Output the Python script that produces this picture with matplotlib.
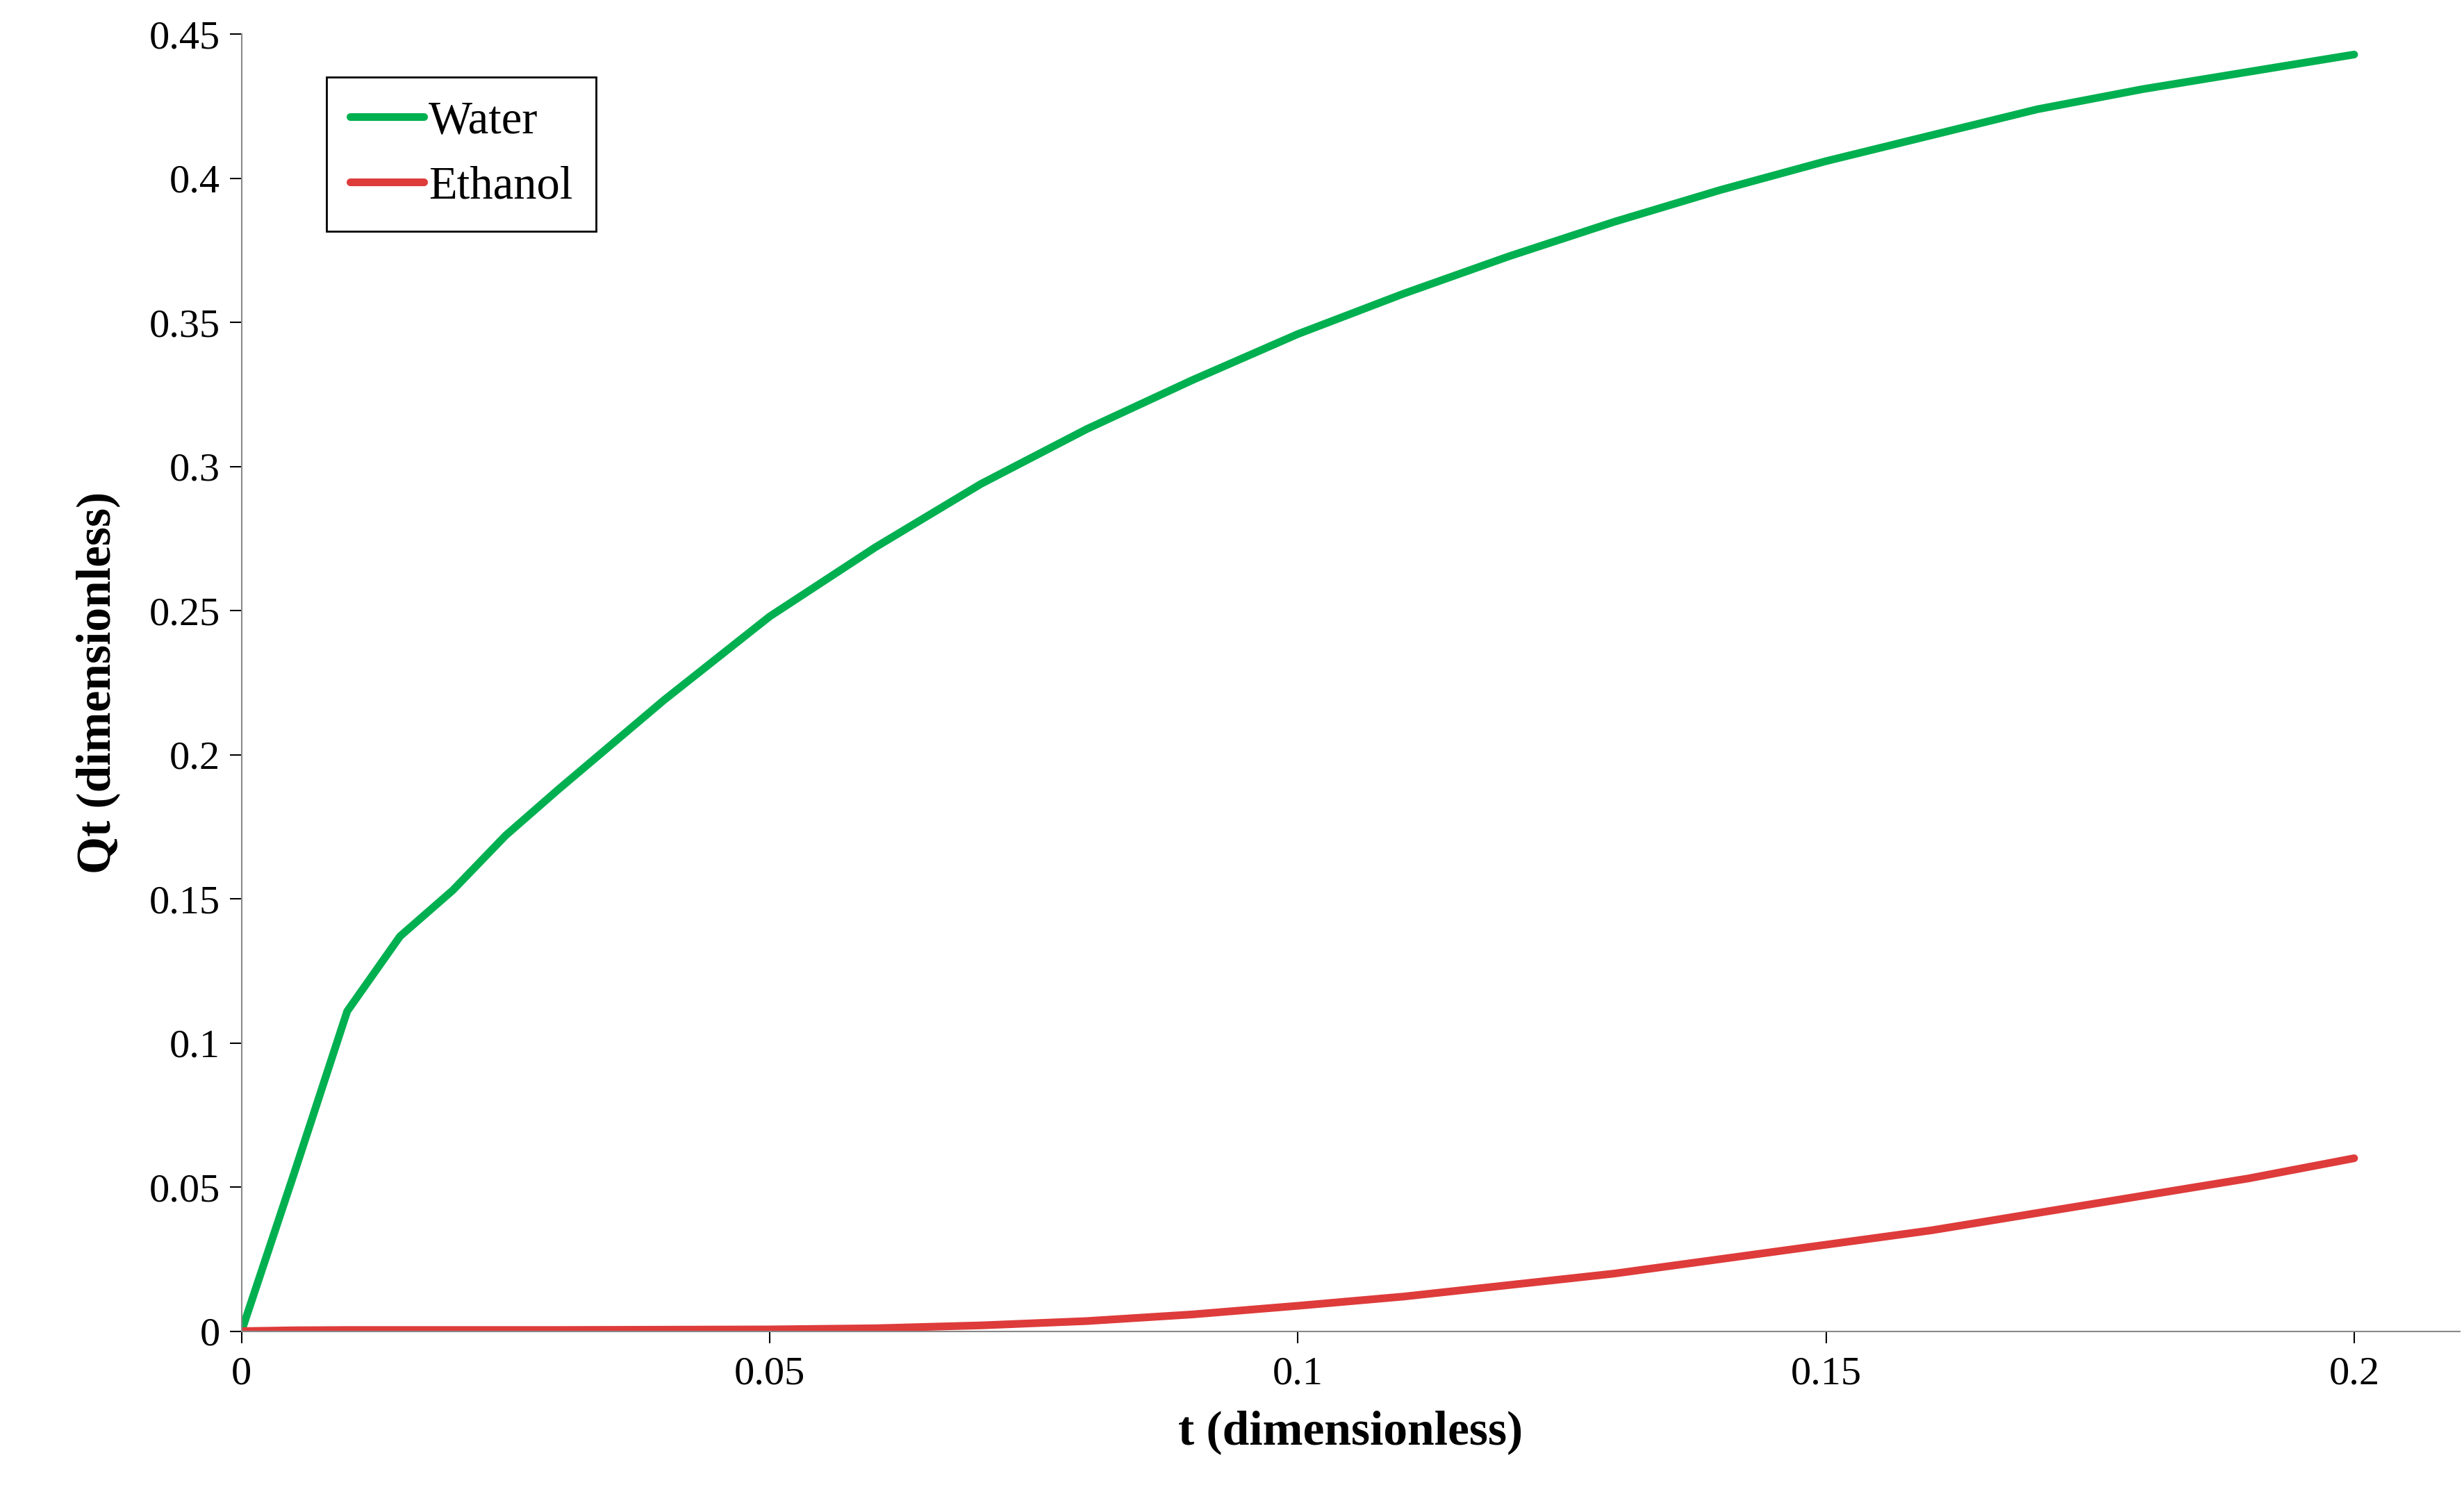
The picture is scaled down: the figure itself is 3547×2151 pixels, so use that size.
import matplotlib
matplotlib.use("Agg")
import matplotlib.pyplot as plt

t = [0, 0.005, 0.01, 0.015, 0.02, 0.025, 0.03, 0.04, 0.05, 0.06, 0.07, 0.08, 0.09, 0.1,
     0.11, 0.12, 0.13, 0.14, 0.15, 0.16, 0.17, 0.18, 0.19, 0.2]
water = [0, 0.055, 0.111, 0.137, 0.153, 0.172, 0.188, 0.219, 0.248, 0.272, 0.294, 0.313,
         0.330, 0.346, 0.360, 0.373, 0.385, 0.396, 0.406, 0.415, 0.424, 0.431, 0.437, 0.443]
ethanol = [0, 0.0003, 0.0004, 0.0004, 0.0004, 0.0004, 0.0004, 0.0005, 0.0006, 0.001, 0.002,
           0.0035, 0.0058, 0.0088, 0.012, 0.016, 0.020, 0.025, 0.030, 0.035, 0.041, 0.047,
           0.053, 0.060]
xticks = [0, 0.05, 0.1, 0.15, 0.2]
xlabels = ["0", "0.05", "0.1", "0.15", "0.2"]
yticks = [0, 0.05, 0.1, 0.15, 0.2, 0.25, 0.3, 0.35, 0.4, 0.45]
ylabels = ["0", "0.05", "0.1", "0.15", "0.2", "0.25", "0.3", "0.35", "0.4", "0.45"]

plt.rcParams['font.family'] = ['Liberation Serif', 'DejaVu Serif']
fig = plt.figure(figsize=(35.48, 21.51), dpi=100)
ax = fig.add_axes([0.098, 0.109, 0.9, 0.868])
ax.plot(t, water, color='#00B050', lw=8, label='Water', solid_capstyle='round', solid_joinstyle='round')
ax.plot(t, ethanol, color='#DE3B3B', lw=8, label='Ethanol', solid_capstyle='round', solid_joinstyle='round')
ax.set_xlim(0, 0.21)
ax.set_ylim(0, 0.45)
ax.set_xticks(xticks, xlabels)
ax.set_yticks(yticks, ylabels)
ax.tick_params(direction='out', length=12, width=1.5, labelsize=42, colors='black')
ax.tick_params(axis='x', pad=14)
ax.tick_params(axis='y', pad=10)
for s in ['top', 'right']:
    ax.spines[s].set_visible(False)
for s in ['left', 'bottom']:
    ax.spines[s].set_color('#888888')
    ax.spines[s].set_linewidth(1.5)
ax.set_xlabel('t (dimensionless)', fontsize=50, fontweight='bold', labelpad=18)
ax.set_ylabel('Qt (dimensionless)', fontsize=50, fontweight='bold', labelpad=30)
leg = ax.legend(loc='upper left', bbox_to_anchor=(0.028, 0.985), fontsize=48, fancybox=False,
                edgecolor='black', framealpha=1, handlelength=1.6, handletextpad=0.1,
                borderpad=0.5, labelspacing=0.5)
leg.get_frame().set_linewidth(2)
fig.savefig('out.png', dpi=100)
